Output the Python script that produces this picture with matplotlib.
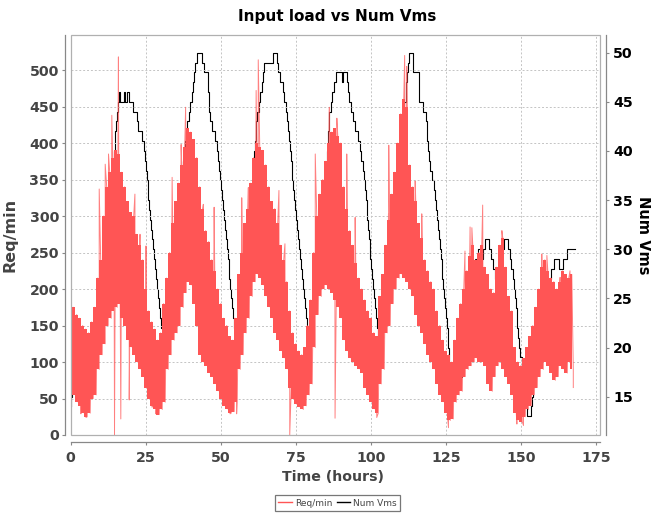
import numpy as np
import matplotlib
matplotlib.use("Agg")
from matplotlib import pyplot as plt
from matplotlib.patches import Rectangle
from matplotlib.lines import Line2D

# request rate per hour: upper and lower edge of the noisy band
req_hi = [230, 175, 165, 160, 150, 145, 140, 155, 175, 215, 240, 300,
          340, 360, 380, 390, 385, 360, 340, 320, 305, 300, 275, 260,
          240, 200, 170, 155, 145, 130, 140, 180, 215, 250, 290, 320,
          345, 370, 395, 420, 415, 405, 380, 340, 310, 280, 265, 240,
          225, 200, 180, 160, 150, 135, 130, 160, 220, 250, 290, 310,
          345, 380, 400, 395, 390, 370, 340, 320, 310, 290, 260, 240,
          210, 170, 140, 125, 115, 110, 120, 150, 185, 250, 300, 330,
          350, 375, 400, 415, 420, 410, 400, 340, 310, 280, 260, 235,
          215, 200, 185, 170, 160, 140, 135, 190, 220, 260, 295, 330,
          360, 400, 440, 460, 450, 370, 340, 320, 290, 270, 240, 225,
          210, 200, 170, 150, 130, 115, 110, 100, 130, 160, 180, 200,
          225, 245, 260, 240, 250, 260, 230, 220, 200, 195, 230, 260,
          270, 230, 190, 170, 120, 100, 95, 105, 120, 135, 150, 175,
          200, 230, 240, 225, 215, 210, 200, 210, 225, 220, 215, 220]
req_lo = [70, 55, 45, 40, 30, 25, 30, 50, 55, 90, 110, 125,
          150, 160, 170, 175, 180, 160, 150, 130, 120, 110, 100, 90,
          80, 65, 50, 40, 35, 28, 35, 45, 90, 110, 130, 140,
          150, 175, 195, 210, 205, 180, 150, 110, 100, 95, 85, 80,
          70, 60, 50, 40, 35, 30, 32, 45, 90, 110, 140, 160,
          190, 210, 220, 215, 205, 190, 175, 160, 140, 130, 115, 105,
          90, 65, 50, 42, 38, 35, 40, 55, 70, 120, 165, 190,
          200, 205, 200, 195, 185, 175, 160, 130, 115, 105, 100, 95,
          90, 85, 65, 55, 45, 35, 30, 70, 90, 140, 150, 180,
          200, 215, 220, 215, 210, 200, 190, 165, 150, 140, 125, 110,
          100, 90, 70, 55, 45, 30, 20, 22, 45, 55, 60, 80,
          90, 95, 100, 105, 100, 100, 95, 70, 60, 80, 95, 100,
          90, 80, 70, 55, 30, 20, 18, 25, 35, 40, 55, 65,
          80, 90, 100, 95, 85, 75, 80, 95, 90, 85, 100, 90]
# isolated bursts and drops outside the band
spike_t = [0.1, 3.4, 5.1, 9.5, 11.5, 12.6, 13.7, 14.6, 15.9, 16.7, 19.5,
           21.4, 23.1, 25.1, 27.1, 28.4, 33.8, 34.9, 36.8, 38.3, 44.2,
           47.8, 53.1, 55.3, 57.0, 59.2, 61.8, 62.5, 69.4, 71.4, 73.0,
           81.5, 86.2, 88.1, 88.7, 92.0, 94.8, 102.0, 105.9, 106.0, 111.3,
           112.0, 114.8, 117.0, 125.9, 131.4, 133.1, 133.7, 137.3, 143.7,
           148.7, 150.9, 157.0, 158.7, 163.1, 166.4, 167.5]
spike_v = [265, 29, 24, 337, 371, 385, 438, 0, 518, 22, 48,
           330, 275, 259, 38, 29, 353, 303, 398, 449, 316,
           312, 29, 29, 325, 339, 472, 514, 335, 262, 0,
           385, 449, 23, 434, 385, 298, 24, 303, 397, 520,
           505, 348, 303, 10, 252, 285, 284, 315, 280,
           15, 13, 248, 246, 216, 225, 65]

# number of VMs: time of each change and the new count
vm_t = [0, 0.2, 0.4, 0.5, 0.6, 0.8, 1.0, 2.5, 3.6, 4.5, 7.5, 8.5, 9.3, 9.8,
        10.3, 10.8, 11.3, 11.8, 12.3, 12.8, 13.3, 13.7, 14.0, 14.3, 14.6,
        14.9, 15.2, 15.5, 15.8, 16.1, 16.3, 17.6, 18.2, 18.7, 19.5, 20.9,
        22.0, 22.3, 23.9, 24.3, 24.6, 25.0, 25.3, 25.6, 25.9, 26.2, 26.5,
        26.9, 27.2, 27.5, 27.9, 28.2, 28.5, 28.9, 29.2, 29.5, 29.8, 30.1,
        31.0, 31.5, 32.0, 32.5, 33.0, 33.4, 33.8, 34.2, 34.6, 35.0, 35.4,
        35.8, 36.2, 36.5, 36.8, 37.1, 37.4, 37.7, 38.0, 38.4, 38.8, 39.3,
        39.8, 40.3, 40.7, 41.1, 41.5, 42.0, 43.7, 44.5, 45.6, 45.8, 46.0,
        46.2, 46.5, 47.0, 48.2, 48.6, 49.0, 49.5, 49.9, 50.2, 50.5, 50.8,
        51.1, 51.4, 51.7, 52.0, 52.3, 52.6, 52.9, 53.2, 53.5, 53.8, 54.1,
        54.5, 55.2, 56.2, 56.8, 57.3, 57.8, 58.3, 58.8, 59.3, 59.7, 60.0,
        60.3, 60.6, 60.9, 61.2, 61.5, 61.8, 62.2, 62.7, 63.1, 63.6, 64.0,
        64.3, 67.4, 68.8, 69.0, 69.8, 70.8, 71.2, 71.7, 72.1, 72.4, 72.7,
        73.0, 73.3, 73.6, 73.9, 74.2, 74.5, 74.8, 75.1, 75.4, 75.7, 76.0,
        76.4, 76.8, 77.2, 77.5, 77.8, 78.1, 78.4, 78.8, 79.2, 80.0, 80.5,
        80.9, 81.3, 81.7, 82.1, 82.5, 82.9, 83.3, 83.6, 83.9, 84.2, 84.5,
        84.8, 85.1, 85.4, 85.8, 86.2, 86.7, 87.2, 87.8, 88.5, 90.3, 90.8,
        92.2, 92.5, 92.9, 93.5, 94.0, 94.6, 95.8, 96.3, 96.8, 97.3, 97.7,
        98.0, 98.3, 98.6, 98.9, 99.1, 99.4, 99.6, 99.9, 100.2, 100.5,
        100.8, 101.1, 101.4, 101.7, 102.0, 102.3, 102.6, 103.5, 104.2,
        104.7, 105.2, 105.7, 106.2, 106.7, 107.2, 107.6, 108.0, 108.3,
        108.6, 108.9, 109.2, 109.7, 110.0, 110.3, 110.6, 110.9, 111.2,
        111.6, 111.9, 112.1, 112.4, 112.7, 114.1, 116.0, 116.2, 117.4,
        118.3, 118.6, 118.9, 119.2, 119.5, 119.9, 120.5, 121.1, 121.4,
        121.7, 122.0, 122.4, 122.7, 123.0, 123.3, 123.6, 123.9, 124.2,
        124.5, 124.8, 125.1, 125.4, 125.6, 125.8, 126.0, 126.2, 126.8,
        127.5, 129.8, 130.3, 130.8, 131.2, 131.6, 132.0, 132.4, 132.8,
        133.2, 133.5, 133.8, 134.1, 134.7, 135.4, 135.9, 136.6, 137.4,
        138.0, 139.5, 140.0, 140.6, 141.3, 142.7, 143.0, 143.6, 144.5,
        145.8, 146.3, 146.8, 147.3, 147.7, 148.0, 148.3, 148.6, 148.9,
        149.2, 149.5, 149.8, 150.3, 150.8, 151.3, 151.8, 152.2, 153.3,
        153.7, 154.2, 154.6, 155.0, 155.4, 155.8, 156.3, 157.0, 157.6,
        158.2, 158.7, 159.2, 159.7, 160.2, 161.0, 162.8, 164.0, 165.5, 168.0]
vm_n = [14, 15, 16, 17, 18, 19, 20, 21, 20, 19, 20, 21, 22, 24,
        26, 28, 30, 32, 34, 36, 37, 38, 39, 40, 41,
        42, 43, 44, 45, 46, 45, 46, 45, 46, 45, 44,
        43, 42, 41, 40, 39, 38, 37, 36, 35, 34, 33,
        32, 31, 30, 29, 28, 27, 26, 25, 24, 23, 22,
        23, 24, 25, 26, 27, 28, 29, 30, 31, 32, 33,
        34, 35, 36, 37, 38, 39, 40, 41, 42, 43, 44,
        45, 46, 47, 48, 49, 50, 49, 48, 47, 46, 45,
        44, 43, 42, 41, 40, 39, 38, 37, 36, 35, 34,
        33, 32, 31, 30, 29, 28, 27, 26, 25, 24, 23,
        22, 21, 22, 23, 25, 27, 29, 31, 32, 33, 34,
        35, 37, 38, 40, 41, 43, 44, 45, 46, 47, 48,
        49, 50, 49, 48, 47, 46, 45, 44, 43, 42, 41,
        40, 39, 38, 37, 36, 35, 34, 33, 32, 31, 30,
        29, 28, 27, 26, 25, 24, 23, 22, 21, 22, 23,
        25, 26, 28, 29, 30, 31, 32, 33, 34, 35, 36,
        37, 38, 40, 42, 44, 45, 46, 47, 48, 47, 48,
        47, 46, 45, 44, 43, 42, 41, 40, 39, 38, 37,
        36, 35, 34, 33, 32, 31, 30, 29, 28, 27,
        26, 25, 24, 23, 22, 21, 20, 21, 22,
        24, 26, 28, 30, 32, 33, 34, 35, 36,
        37, 38, 39, 40, 41, 42, 43, 44, 45,
        46, 47, 48, 49, 50, 48, 46, 45, 44,
        43, 42, 41, 40, 39, 38, 37, 36, 35,
        34, 33, 32, 31, 30, 29, 28, 27, 26,
        25, 24, 23, 22, 21, 20, 19, 18, 17,
        16, 17, 18, 19, 20, 21, 22, 23, 24,
        25, 26, 27, 28, 29, 28, 30, 29, 30,
        31, 30, 29, 28, 27, 28, 29, 30, 31,
        30, 29, 28, 27, 26, 25, 24, 23, 22,
        21, 20, 19, 18, 17, 16, 14, 13, 14,
        15, 16, 17, 18, 19, 20, 21, 22, 23,
        24, 25, 26, 27, 28, 29, 28, 29, 30, 30]

req_ticks = list(range(0, 501, 50))
vm_ticks = list(range(15, 51, 5))
hour_ticks = list(range(0, 176, 25))

# interleave the band edges so the trace zigzags between them
hours = np.arange(len(req_hi))
t = np.concatenate([hours, hours + 0.5, spike_t])
v = np.concatenate([req_hi, req_lo, spike_v])
order = np.argsort(t, kind="stable")
t, v = t[order], v[order]

plt.rcParams["font.family"] = "DejaVu Sans"
fig = plt.figure(figsize=(6.51, 5.15), dpi=100)
W, H = 651, 515
left, right, top, bottom = 70.7, 600, 35, 435
ax_vm = fig.add_axes([left / W, 1 - bottom / H, (right - left) / W, (bottom - top) / H])
ax = ax_vm.twinx()

grey_txt = "#444444"
axis_col = "#888888"
red = "#ff5555"

ax_vm.plot(vm_t, vm_n, drawstyle="steps-post", color="black", lw=0.8, zorder=2)
ax.fill_between(hours, req_lo, req_hi, step="mid", color=red, lw=0, zorder=3)
ax.plot(t, v, color=red, lw=0.7, alpha=0.75, zorder=3)

ax.set_xlim(0, 176.4)
ax.set_ylim(0, 548)
ax_vm.set_ylim(11.1, 51.8)
ax.set_yticks(req_ticks)
ax_vm.set_yticks(vm_ticks)
ax_vm.set_xticks(hour_ticks)

# req axis on the left, vm axis on the right
ax.yaxis.tick_left()
ax.yaxis.set_label_position("left")
ax_vm.yaxis.tick_right()
ax_vm.yaxis.set_label_position("right")

grid_kw = dict(color="#c4c4c4", linestyle=(0, (2, 2)), linewidth=0.7)
ax.grid(True, axis="y", **grid_kw)
ax_vm.grid(True, axis="x", **grid_kw)
ax_vm.grid(False, axis="y")
ax.set_axisbelow(True)
ax_vm.set_axisbelow(True)

for a in (ax, ax_vm):
    for s in a.spines.values():
        s.set_visible(False)
ax.spines["left"].set_visible(True)
ax.spines["left"].set_position(("outward", 4))
ax_vm.spines["bottom"].set_visible(True)
ax_vm.spines["bottom"].set_position(("outward", 5))
ax_vm.spines["right"].set_visible(True)
ax_vm.spines["right"].set_position(("outward", 4))
for s in (ax.spines["left"], ax_vm.spines["bottom"], ax_vm.spines["right"]):
    s.set_color(axis_col)
    s.set_linewidth(0.9)

ax.add_patch(Rectangle((0, 0), 1, 1, transform=ax.transAxes, fill=False,
                       edgecolor="#b0b0b0", lw=0.9, clip_on=False, zorder=10))

tick_font = dict(labelsize=10.2, direction="out", length=2.5, color=axis_col)
ax.tick_params(axis="y", labelcolor=grey_txt, pad=2, **tick_font)
ax_vm.tick_params(axis="x", labelcolor=grey_txt, pad=4, **tick_font)
ax_vm.tick_params(axis="y", labelcolor="black", pad=3, **tick_font)
for lab in ax.get_yticklabels() + ax_vm.get_xticklabels() + ax_vm.get_yticklabels():
    lab.set_fontweight("bold")

ax_vm.set_xlabel("Time (hours)", fontsize=10.2, fontweight="bold", color=grey_txt)
ax.set_ylabel("Req/min", fontsize=11.5, fontweight="bold", color=grey_txt)
ax_vm.set_ylabel("Num Vms", fontsize=10.5, fontweight="bold", color="black",
                 rotation=-90, va="bottom")
ax_vm.xaxis.set_label_coords(0.496, -0.088)
ax.yaxis.set_label_coords(-0.1, 0.5)
ax_vm.yaxis.set_label_coords(1.068, 0.5)

fig.text(337.5 / W, 1 - 16 / H, "Input load vs Num Vms", ha="center", va="center",
         fontsize=11, fontweight="bold", color="black")

handles = [Line2D([], [], color=red, lw=1), Line2D([], [], color="black", lw=1)]
leg = fig.legend(handles, ["Req/min", "Num Vms"], loc="center",
                 bbox_to_anchor=(337.5 / W, 1 - 503 / H), ncol=2, fontsize=6.5,
                 frameon=True, fancybox=False, handlelength=1.5, handletextpad=0.3,
                 columnspacing=0.5, borderpad=0.35, borderaxespad=0)
leg.get_frame().set_edgecolor("#555555")
leg.get_frame().set_linewidth(0.9)
for txt in leg.get_texts():
    txt.set_color(grey_txt)

fig.savefig("out.png", dpi=100)
